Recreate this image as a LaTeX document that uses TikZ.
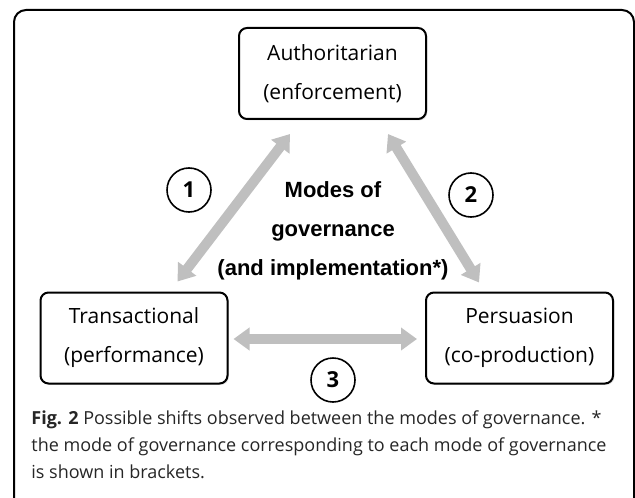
\documentclass[tikz,border=0pt]{standalone}
\usepackage{fontspec}
\setmainfont{Open Sans}
\newfontfamily\modefont{Liberation Sans}
\usetikzlibrary{arrows.meta,shadows}
\definecolor{shiftgray}{RGB}{191,191,191}

\begin{document}
\begin{tikzpicture}[x=0.5pt, y=-0.5pt,
    mode/.style={draw, line width=1pt, rounded corners=4pt, fill=white,
        minimum width=93.5pt, minimum height=45.5pt, inner sep=0pt,
        align=center, font=\fontsize{10.5}{19.5}\selectfont,
        drop shadow={shadow xshift=0.7pt, shadow yshift=-0.7pt, opacity=0.25}},
    shiftno/.style={draw, circle, line width=0.8pt, minimum size=22pt, inner sep=0pt,
        font=\fontsize{11}{13}\selectfont\bfseries},
    shiftarrow/.style={draw=shiftgray, line width=5pt,
        {Triangle[width=11pt,length=8pt]}-{Triangle[width=11pt,length=8pt]}},
    ]
    \useasboundingbox (0,0) rectangle (635,497);

    % frame of the figure, open at the bottom
    \draw[line width=1pt, rounded corners=6pt] (14,510) -- (14,10) -- (634,10) -- (634,510);

    \node[mode] (authoritarian) at (332.5,73.5) {Authoritarian\\(enforcement)};
    \node[mode] (transactional) at (134,338) {Transactional\\(performance)};
    \node[mode] (persuasion) at (519.5,338) {Persuasion\\(co-production)};

    \node[font=\modefont\bfseries\fontsize{11}{19.5}\selectfont, align=center] (modes) at (333,231)
        {Modes of\\governance\\(and implementation*)};

    \draw[shiftarrow] ([shift={(-51,-10)}]transactional.north east) -- ([shift={(-42.5,14)}]authoritarian.south);
    \draw[shiftarrow] ([shift={(55.5,14)}]authoritarian.south) -- ([shift={(54,-9)}]persuasion.north west);
    \draw[shiftarrow] ([shift={(5,1)}]transactional.east) -- ([shift={(-8,1)}]persuasion.west);

    \node[shiftno] (one) at (189,190) {1};
    \node[shiftno] (two) at (471,195) {2};
    \node[shiftno] (three) at (333,380) {3};

    \node[anchor=base west, align=left, inner sep=0pt, text=black!85,
        font=\fontsize{9}{13.3}\selectfont] (caption) at (31,478)
        {\textbf{Fig. 2} Possible shifts observed between the modes of governance. *\\
        the mode of governance corresponding to each mode of governance\\
        is shown in brackets.};
\end{tikzpicture}
\end{document}
